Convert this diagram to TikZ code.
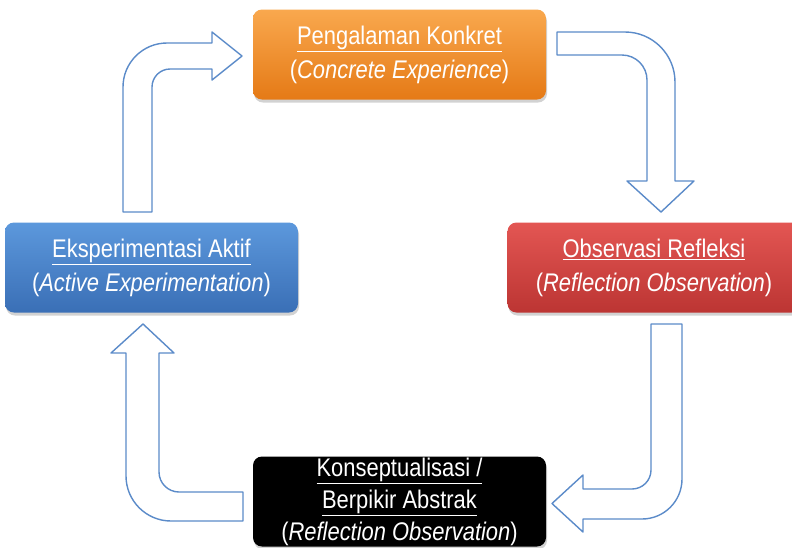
\documentclass[tikz,border=0pt]{standalone}
\usepackage{fontspec}
\setmainfont{Liberation Sans}[FakeStretch=0.86]
\usetikzlibrary{shadows}
\definecolor{arrowblue}{HTML}{5B8BC9}
\definecolor{orangetop}{HTML}{F9A84E}
\definecolor{orangebot}{HTML}{E57A16}
\definecolor{bluetop}{HTML}{5C98DC}
\definecolor{bluebot}{HTML}{3A6FB6}
\definecolor{redtop}{HTML}{E35653}
\definecolor{redbot}{HTML}{BC3533}
\tikzset{
  stagebox/.style={rounded corners=9pt, minimum width=293pt, minimum height=90pt,
    inner sep=0pt, align=center, text=white,
    font=\fontsize{25.5}{34}\selectfont,
    drop shadow={opacity=0.35, shadow xshift=1pt, shadow yshift=-3pt}},
  blockarrow/.style={draw=arrowblue, line width=1.4pt, fill=white, line join=round},
}
\begin{document}
\begin{tikzpicture}[x=1pt, y=-1pt]
\useasboundingbox (0,0) rectangle (792,547);
\clip (0,0) rectangle (792,547);
\fill[white] (0,0) rectangle (792,547);

% stages
\node[stagebox, top color=orangetop, bottom color=orangebot] (ce) at (399.5,54.5)
  {\underline{Pengalaman Konkret}\\(\textit{Concrete Experience})};
\node[stagebox, top color=redtop, bottom color=redbot] (ro) at (654,267.5)
  {\underline{Observasi Refleksi}\\(\textit{Reflection Observation})};
\node[stagebox, fill=black, font=\fontsize{25.5}{32}\selectfont] (ac) at (399.5,501.5)
  {\underline{Konseptualisasi /}\\\underline{Berpikir Abstrak}\\(\textit{Reflection Observation})};
\node[stagebox, top color=bluetop, bottom color=bluebot] (ae) at (151.5,267.5)
  {\underline{Eksperimentasi Aktif}\\(\textit{Active Experimentation})};

% block arrows
% Active Experimentation -> Concrete Experience
\draw[blockarrow] (123,212) -- (123,87) .. controls (123,62.7) and (142.7,43) .. (167,43)
  -- (212,43) -- (212,32) -- (242,56) -- (212,80) -- (212,69) -- (170,69)
  .. controls (160.1,69) and (152,77.1) .. (152,87) -- (152,212) -- cycle;
% Concrete Experience -> Reflection Observation
\draw[blockarrow] (557,32) -- (625,32) .. controls (652.6,32) and (675,54.4) .. (675,82)
  -- (675,181) -- (694,181) -- (661,212) -- (627,181) -- (647,181) -- (647,80)
  .. controls (647,66.2) and (635.8,55) .. (622,55) -- (557,55) -- cycle;
% Reflection Observation -> Abstract Conceptualisation
\draw[blockarrow] (651,324) -- (682,324) -- (682,479) .. controls (682,501.1) and (664.1,519) .. (642,519)
  -- (583,519) -- (583,532) -- (552,503.5) -- (583,475) -- (583,489) -- (632,489)
  .. controls (642.5,489) and (651,480.5) .. (651,470) -- cycle;
% Abstract Conceptualisation -> Active Experimentation
\draw[blockarrow] (143,324) -- (174,353) -- (159,353) -- (159,472)
  .. controls (159,483) and (168,492) .. (179,492) -- (243,492) -- (243,521) -- (171,521)
  .. controls (146.2,521) and (126,500.8) .. (126,476) -- (126,353) -- (111,353) -- cycle;
\end{tikzpicture}
\end{document}
